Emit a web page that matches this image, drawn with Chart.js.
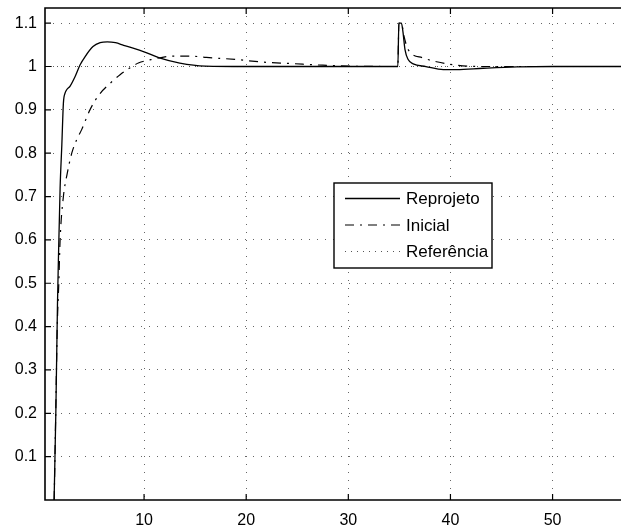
<!DOCTYPE html>
<html>
<head>
<meta charset="utf-8">
<script src="https://cdn.jsdelivr.net/npm/chart.js@4.4.1/dist/chart.umd.min.js"></script>
<style>
  html, body { margin: 0; padding: 0; background: #fff; }
  #wrap { width: 621px; height: 529px; }
</style>
</head>
<body>
<div id="wrap"><canvas id="chart" width="621" height="529"></canvas></div>
<script>
// Reprojeto (solid)
const tReprojeto = [1.19, 1.36, 1.52, 1.61, 1.78, 1.95, 2.10, 2.27, 2.44, 2.76, 3.25, 3.74, 4.23, 5.0, 5.7, 6.4, 7.2, 8.0, 9.0, 10.0, 11.5, 13.5, 16, 20, 25, 30, 34.85, 34.95, 35.2, 35.35, 35.55, 35.86, 36.35, 37.6, 39.3, 40.6, 43.2, 46.5, 50, 56.7];
const yReprojeto = [0, 0.2, 0.45, 0.55, 0.72, 0.82, 0.915, 0.939, 0.947, 0.955, 0.977, 1.004, 1.023, 1.046, 1.055, 1.057, 1.055, 1.049, 1.042, 1.034, 1.020, 1.008, 1.001, 1.0, 1.0, 1.0, 1.0, 1.1, 1.1, 1.08, 1.039, 1.016, 1.006, 1.0, 0.993, 0.993, 0.996, 0.999, 1.0, 1.0];

// Inicial (dash-dot)
const tInicial = [1.2, 1.35, 1.5, 1.65, 1.78, 2.1, 2.45, 2.92, 3.4, 3.9, 4.7, 5.6, 6.67, 7.65, 8.63, 9.44, 10.9, 12.9, 14.5, 16.1, 19.1, 21.7, 24.3, 27.5, 30, 34.85, 34.95, 35.2, 35.45, 35.86, 37.3, 38.64, 40.6, 43, 56.7];
const yInicial = [0, 0.2, 0.4, 0.5, 0.6, 0.7, 0.75, 0.8, 0.831, 0.855, 0.9, 0.935, 0.961, 0.981, 0.997, 1.008, 1.017, 1.024, 1.024, 1.021, 1.016, 1.010, 1.007, 1.003, 1.001, 1.0, 1.1, 1.1, 1.07, 1.039, 1.020, 1.011, 1.003, 1.0, 1.0];

// Referência (dotted)
const tReferencia = [0.3, 56.7];
const yReferencia = [1, 1];

const xTicks = [10, 20, 30, 40, 50];
const yTicks = [0.1, 0.2, 0.3, 0.4, 0.5, 0.6, 0.7, 0.8, 0.9, 1.0, 1.1];

const fontFamily = "'Liberation Sans', Arial, Helvetica, sans-serif";

function toPoints(t, y) {
    return t.map((v, i) => ({ x: v, y: y[i] }));
}

// MATLAB-like box with inward ticks
const framePlugin = {
    id: 'frame',
    afterDatasetsDraw(chart) {
        const { ctx, chartArea: a, scales } = chart;
        ctx.save();
        ctx.strokeStyle = '#000';
        ctx.lineWidth = 1.6;
        ctx.beginPath();
        ctx.moveTo(a.right + 2, a.top);
        ctx.lineTo(a.left, a.top);
        ctx.lineTo(a.left, a.bottom);
        ctx.lineTo(a.right + 2, a.bottom);
        ctx.stroke();
        ctx.lineWidth = 1.2;
        ctx.beginPath();
        xTicks.forEach(v => {
            const px = scales.x.getPixelForValue(v);
            ctx.moveTo(px, a.bottom);
            ctx.lineTo(px, a.bottom - 6);
            ctx.moveTo(px, a.top);
            ctx.lineTo(px, a.top + 6);
        });
        yTicks.forEach(v => {
            const py = scales.y.getPixelForValue(v);
            ctx.moveTo(a.left, py);
            ctx.lineTo(a.left + 6, py);
        });
        ctx.stroke();
        ctx.restore();
    }
};

// Legend box inside the axes
const legendPlugin = {
    id: 'boxLegend',
    afterDraw(chart) {
        const ctx = chart.ctx;
        const x0 = 334, y0 = 183, w = 158, h = 85;
        ctx.save();
        ctx.fillStyle = '#fff';
        ctx.fillRect(x0, y0, w, h);
        ctx.strokeStyle = '#000';
        ctx.lineWidth = 1.4;
        ctx.strokeRect(x0, y0, w, h);
        ctx.font = '17px ' + fontFamily;
        ctx.textBaseline = 'middle';
        ctx.fillStyle = '#000';
        const rows = [198.5, 225, 251.5];
        chart.data.datasets.forEach((ds, i) => {
            ctx.strokeStyle = ds.borderColor;
            ctx.lineWidth = ds.borderWidth;
            ctx.setLineDash(ds.borderDash || []);
            ctx.beginPath();
            ctx.moveTo(345, rows[i]);
            ctx.lineTo(400, rows[i]);
            ctx.stroke();
            ctx.setLineDash([]);
            ctx.fillText(ds.label, 406, rows[i] + 1);
        });
        ctx.restore();
    }
};

new Chart(document.getElementById('chart'), {
    type: 'line',
    data: {
        datasets: [
            {
                label: 'Reprojeto',
                data: toPoints(tReprojeto, yReprojeto),
                borderColor: '#000',
                borderWidth: 1.3,
                cubicInterpolationMode: 'monotone'
            },
            {
                label: 'Inicial',
                data: toPoints(tInicial, yInicial),
                borderColor: '#000',
                borderWidth: 1.2,
                borderDash: [9, 6, 2, 6],
                cubicInterpolationMode: 'monotone'
            },
            {
                label: 'Referência',
                data: toPoints(tReferencia, yReferencia),
                borderColor: '#555',
                borderWidth: 1,
                borderDash: [1, 5]
            }
        ]
    },
    options: {
        responsive: false,
        animation: false,
        devicePixelRatio: 1,
        elements: { point: { radius: 0 } },
        layout: { padding: { top: 8, left: 0, right: 0, bottom: 0 } },
        plugins: {
            legend: { display: false },
            tooltip: { enabled: false }
        },
        scales: {
            x: {
                type: 'linear',
                min: 0.3,
                max: 56.7,
                afterBuildTicks: axis => { axis.ticks = xTicks.map(v => ({ value: v })); },
                afterFit: axis => {
                    axis.height = 29;
                    axis.paddingLeft = 0;
                    axis.paddingRight = 0;
                },
                grid: { color: 'rgba(0,0,0,0.6)', lineWidth: 1, drawTicks: false },
                border: { display: false, dash: [1, 7] },
                ticks: {
                    color: '#000',
                    font: { family: fontFamily, size: 16 },
                    padding: 11,
                    maxRotation: 0,
                    callback: v => String(v)
                }
            },
            y: {
                type: 'linear',
                min: 0,
                max: 1.135,
                afterBuildTicks: axis => { axis.ticks = yTicks.map(v => ({ value: v })); },
                afterFit: axis => {
                    axis.width = 45;
                    axis.paddingTop = 0;
                    axis.paddingBottom = 0;
                },
                grid: { color: 'rgba(0,0,0,0.6)', lineWidth: 1, drawTicks: false },
                border: { display: false, dash: [1, 7] },
                ticks: {
                    color: '#000',
                    font: { family: fontFamily, size: 16 },
                    padding: 8,
                    callback: v => String(Math.round(v * 10) / 10)
                }
            }
        }
    },
    plugins: [framePlugin, legendPlugin]
});
</script>
</body>
</html>
